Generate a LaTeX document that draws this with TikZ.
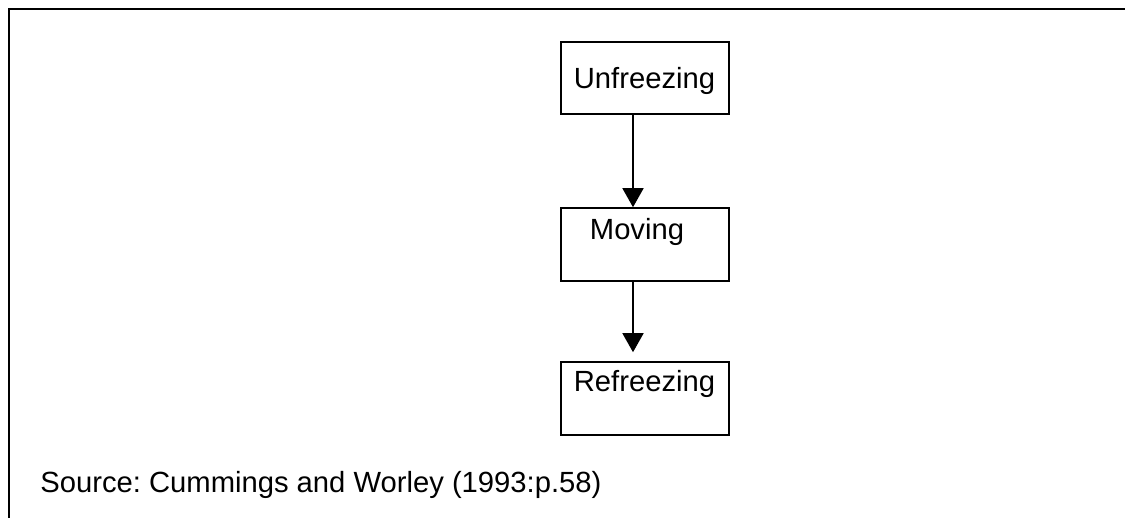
\documentclass[tikz,border=0pt]{standalone}
\usepackage{fontspec}
\setmainfont{Liberation Sans}
\usetikzlibrary{arrows.meta}
\frenchspacing
\tikzset{
  stagebox/.style={draw, line width=0.8pt, minimum width=84pt, minimum height=36pt, inner sep=0pt},
  stagetext/.style={anchor=base, inner sep=0pt, font=\fontsize{14.6}{17}\selectfont},
  flow/.style={line width=0.8pt, -{Triangle[width=10.5pt, length=9.5pt]}},
  frame/.style={line width=1.2pt, line cap=rect}
}
\begin{document}
\begin{tikzpicture}[x=0.5pt, y=-0.5pt]
  \useasboundingbox (0,0) rectangle (1125,518);
  % open frame: top and left rules only
  \draw[frame] (9,518) -- (9,9) -- (1125,9);
  % stage boxes
  \node[stagebox, minimum height=36pt] (u) at (645,78) {};
  \node[stagebox, minimum height=36.5pt] (m) at (645,244.5) {};
  \node[stagebox, minimum height=36.5pt] (r) at (645,398.5) {};
  % stage labels
  \node[stagetext] (ut) at (644.5,89) {Unfreezing};
  \node[stagetext] (mt) at (637,240) {Moving};
  \node[stagetext] (rt) at (644.5,392) {Refreezing};
  % connectors, offset left of the box centres
  \coordinate (ax) at (633,0);
  \draw[flow] (u.south -| ax) -- (m.north -| ax);
  \draw[flow, shorten >=4.5pt] (m.south -| ax) -- (r.north -| ax);
  % source note
  \node[stagetext, anchor=base west] (src) at (40,492.5) {Source: Cummings and Worley (1993:p.58)};
\end{tikzpicture}
\end{document}
